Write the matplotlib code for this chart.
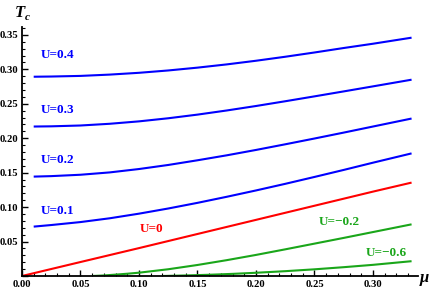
import matplotlib
matplotlib.use("Agg")
import matplotlib.pyplot as plt
from matplotlib.ticker import MultipleLocator, FuncFormatter

# ---- data ----
mu_hi = [0.01, 0.025, 0.05, 0.075, 0.10, 0.125, 0.15, 0.175, 0.20, 0.225, 0.25, 0.275, 0.30, 0.333]
tc_u04 = [0.2893, 0.2896, 0.2905, 0.2924, 0.2950, 0.2984, 0.3025, 0.3072, 0.3125, 0.3183, 0.3245, 0.3310, 0.3372, 0.3460]
tc_u03 = [0.2170, 0.2173, 0.2185, 0.2210, 0.2245, 0.2290, 0.2343, 0.2403, 0.2468, 0.2537, 0.2608, 0.2680, 0.2753, 0.2850]
tc_u02 = [0.1443, 0.1450, 0.1470, 0.1504, 0.1553, 0.1612, 0.1680, 0.1752, 0.1830, 0.1912, 0.1996, 0.2082, 0.2170, 0.2286]
tc_u01 = [0.0717, 0.0740, 0.0783, 0.0838, 0.0905, 0.0980, 0.1062, 0.1150, 0.1242, 0.1338, 0.1438, 0.1540, 0.1645, 0.1780]

mu_u0 = [0.0, 0.05, 0.10, 0.15, 0.20, 0.25, 0.30, 0.333]
tc_u0 = [0.0, 0.0203, 0.0405, 0.0610, 0.0815, 0.1020, 0.1225, 0.1356]

mu_m02 = [0.06, 0.07, 0.08, 0.09, 0.10, 0.125, 0.15, 0.175, 0.20, 0.225, 0.25, 0.275, 0.30, 0.333]
tc_m02 = [0.0, 0.0008, 0.0020, 0.0033, 0.0048, 0.0098, 0.0160, 0.0230, 0.0306, 0.0387, 0.0470, 0.0553, 0.0638, 0.0750]

mu_m06 = [0.12, 0.14, 0.16, 0.18, 0.20, 0.225, 0.25, 0.275, 0.30, 0.333]
tc_m06 = [0.0, 0.0008, 0.0018, 0.0031, 0.0047, 0.0070, 0.0097, 0.0128, 0.0162, 0.0215]

labels = ["U=0.4", "U=0.3", "U=0.2", "U=0.1", "U=0", "U=\u22120.2", "U=\u22120.6"]
label_pos = [(0.030, 0.321), (0.030, 0.241), (0.030, 0.1686), (0.030, 0.0949),
             (0.111, 0.0678), (0.271, 0.079), (0.311, 0.034)]

xticks = [0.00, 0.05, 0.10, 0.15, 0.20, 0.25, 0.30]
yticks = [0.00, 0.05, 0.10, 0.15, 0.20, 0.25, 0.30, 0.35]

BLUE = (0, 0, 1)
RED = (1, 0, 0)
GREEN = (0.1, 0.65, 0.1)

plt.rcParams['font.family'] = ['Liberation Serif', 'DejaVu Serif']

fig = plt.figure(figsize=(4.36, 2.92), dpi=100)
ax = fig.add_axes([22/436, 16/292, 396/436, 249/292])

lw = 1.5
for tc in (tc_u04, tc_u03, tc_u02, tc_u01):
    ax.plot(mu_hi, tc, color=BLUE, lw=lw, solid_capstyle='butt', solid_joinstyle='round')
ax.plot(mu_u0, tc_u0, color=RED, lw=lw, solid_capstyle='butt')
ax.plot(mu_m02, tc_m02, color=GREEN, lw=lw, solid_capstyle='butt', solid_joinstyle='round')
ax.plot(mu_m06, tc_m06, color=GREEN, lw=lw, solid_capstyle='butt', solid_joinstyle='round')

colors = [BLUE, BLUE, BLUE, BLUE, RED, GREEN, GREEN]
for lab, (x, y), c in zip(labels, label_pos, colors):
    ax.text(x, y, lab, color=c, fontsize=9.5, fontweight='bold',
            ha='center', va='center')

ax.set_xlim(0, 0.3385)
ax.set_ylim(0, 0.3615)
ax.spines['top'].set_visible(False)
ax.spines['right'].set_visible(False)
for s in ('left', 'bottom'):
    ax.spines[s].set_linewidth(1.3)

ax.set_xticks(xticks)
ax.set_yticks(yticks)
ax.xaxis.set_minor_locator(MultipleLocator(0.01))
ax.yaxis.set_minor_locator(MultipleLocator(0.01))
ax.xaxis.set_major_formatter(FuncFormatter(lambda v, p: f"{v:.2f}"))
ax.yaxis.set_major_formatter(FuncFormatter(lambda v, p: "" if abs(v) < 1e-9 else f"{v:.2f}"))
ax.tick_params(which='major', direction='in', length=4, width=1.0, labelsize=7.7, pad=3)
ax.tick_params(which='minor', direction='in', length=2, width=0.8)
for t in ax.get_xticklabels() + ax.get_yticklabels():
    t.set_fontweight('bold')

fig.text(15/436, 1 - 17/292, "T", fontsize=12, fontweight='bold', fontstyle='italic',
         ha='left', va='baseline')
fig.text(25/436, 1 - 20/292, "c", fontsize=8, fontweight='bold', fontstyle='italic',
         ha='left', va='baseline')
fig.text(420/436, 1 - 282/292, "\u03bc", fontsize=12, fontweight='bold', fontstyle='italic',
         ha='left', va='baseline')

fig.savefig("out.png", dpi=100)
